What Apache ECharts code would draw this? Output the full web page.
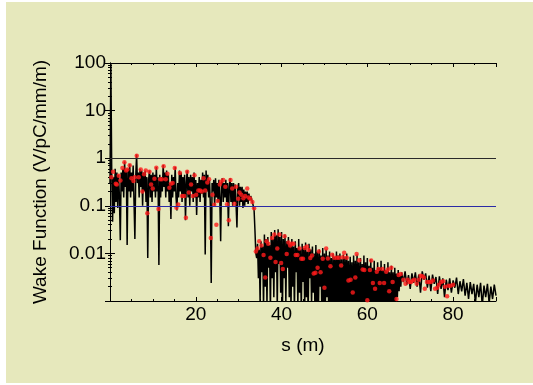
<!DOCTYPE html>
<html>
<head>
<meta charset="utf-8">
<script src="https://cdn.jsdelivr.net/npm/echarts@6/dist/echarts.min.js"></script>
<style>
  html, body { margin: 0; padding: 0; background: #ffffff; }
  #wrap { position: relative; width: 533px; height: 385px; }
  #panel { position: absolute; left: 6px; top: 2px; right: 0; bottom: 2px; background: #e6e8bc; }
  #chart { position: absolute; left: 0; top: 0; width: 533px; height: 385px; }
</style>
</head>
<body>
<div id="wrap">
  <div id="panel"></div>
  <div id="chart"></div>
</div>
<script>
// black trace, [s (m), wake (V/pC/mm/m)]
const traceHead = [
  [0.0, 0.3], [0.2, 100], [0.4, 0.5], [0.6, 0.046], [0.8, 0.4], [1.0, 0.07], [1.2, 0.6], [1.4, 0.12], [1.6, 0.5], [1.8, 0.09],
  [2.0, 0.45], [2.2, 0.15], [2.4, 0.019], [2.6, 0.5], [2.8, 0.2], [3.0, 0.6], [3.2, 0.15], [3.4, 0.85], [3.6, 0.25], [3.8, 0.55],
  [4.0, 0.015], [4.2, 0.6], [4.4, 0.2], [4.6, 0.75], [4.8, 0.15], [5.0, 0.5], [5.2, 0.2], [5.4, 0.7], [5.6, 0.12], [5.8, 0.02],
  [6.0, 0.4], [6.2, 1.2], [6.4, 0.3], [6.6, 0.5], [6.8, 0.15], [7.0, 0.6], [7.2, 0.25], [7.4, 0.55], [7.6, 0.1], [7.8, 0.5],
  [8.0, 0.2], [8.2, 0.55], [8.4, 0.12], [8.6, 0.4], [8.8, 0.008], [9.0, 0.35], [9.2, 0.55], [9.4, 0.15], [9.6, 0.45], [9.8, 0.12],
  [10.0, 0.5], [10.2, 0.2], [10.4, 0.45], [10.6, 0.15], [10.8, 0.65], [11.0, 0.2], [11.2, 0.4], [11.4, 0.0057], [11.6, 0.45], [11.8, 0.15],
  [12.0, 0.4], [12.2, 0.2], [12.4, 0.72], [12.6, 0.25], [12.8, 0.5], [13.0, 0.15], [13.2, 0.55], [13.4, 0.2], [13.6, 0.45], [13.8, 0.12],
  [14.0, 0.3], [14.2, 0.053], [14.4, 0.45], [14.6, 0.15], [14.8, 0.4], [15.0, 0.2], [15.2, 0.65], [15.4, 0.15], [15.6, 0.08], [15.8, 0.3],
  [16.0, 0.15], [16.2, 0.55], [16.4, 0.2], [16.6, 0.5], [16.8, 0.12], [17.0, 0.4], [17.2, 0.15], [17.4, 0.45], [17.6, 0.05], [17.8, 0.3],
  [18.0, 0.55], [18.2, 0.15], [18.4, 0.4], [18.6, 0.1], [18.8, 0.45], [19.0, 0.2], [19.2, 0.4], [19.4, 0.12], [19.6, 0.5], [19.8, 0.15],
  [20.0, 0.35], [20.2, 0.064], [20.4, 0.3], [20.6, 0.15], [20.8, 0.4], [21.0, 0.12], [21.2, 0.35], [21.4, 0.18], [21.6, 0.5], [21.8, 0.15],
  [22.0, 0.45], [22.2, 0.0095], [22.4, 0.55], [22.6, 0.2], [22.8, 0.45], [23.0, 0.15], [23.2, 0.35], [23.4, 0.1], [23.6, 0.0024], [23.8, 0.3],
  [24.0, 0.2], [24.2, 0.35], [24.4, 0.1], [24.6, 0.38], [24.8, 0.15], [25.0, 0.3], [25.2, 0.12], [25.4, 0.35], [25.6, 0.15], [25.8, 0.018],
  [26.0, 0.3], [26.2, 0.38], [26.4, 0.12], [26.6, 0.3], [26.8, 0.15], [27.0, 0.35], [27.2, 0.12], [27.4, 0.3], [27.6, 0.037], [27.8, 0.25],
  [28.0, 0.38], [28.2, 0.12], [28.4, 0.3], [28.6, 0.1], [28.8, 0.3], [29.0, 0.12], [29.2, 0.28], [29.4, 0.1], [29.6, 0.035], [29.8, 0.25],
  [30.0, 0.3], [30.2, 0.1], [30.4, 0.25], [30.6, 0.12], [30.8, 0.25], [31.0, 0.09], [31.2, 0.22], [31.4, 0.1], [31.6, 0.2], [31.8, 0.12],
  [32.0, 0.2], [32.2, 0.11], [32.4, 0.18], [32.6, 0.13], [32.8, 0.16], [33.0, 0.14], [33.2, 0.13], [33.4, 0.1], [33.6, 0.08], [33.8, 0.03],
  [34.0, 0.01], [34.2, 0.008]
];
const traceBand = [
  [34.4, 0.016], [34.6, 0.003], [34.8, 0.012], [35.0, 0.0009], [35.2, 0.018], [35.4, 0.004], [35.6, 0.014], [35.8, 0.0007], [36.0, 0.025], [36.2, 0.002],
  [36.4, 0.02], [36.6, 0.0008], [36.8, 0.022], [37.0, 0.005], [37.2, 0.015], [37.4, 0.0006], [37.6, 0.028], [37.8, 0.003], [38.0, 0.02], [38.2, 0.0012],
  [38.4, 0.031], [38.6, 0.004], [38.8, 0.024], [39.0, 0.0007], [39.2, 0.032], [39.4, 0.006], [39.6, 0.022], [39.8, 0.0015], [40.0, 0.028], [40.2, 0.0006],
  [40.4, 0.02], [40.6, 0.003], [40.8, 0.025], [41.0, 0.0009], [41.2, 0.018], [41.4, 0.005], [41.6, 0.022], [41.8, 0.0012], [42.0, 0.016], [42.2, 0.0007],
  [42.4, 0.02], [42.6, 0.002], [42.8, 0.014], [43.0, 0.0006], [43.2, 0.018], [43.4, 0.004], [43.6, 0.013], [43.8, 0.0008], [44.0, 0.02], [44.2, 0.0015],
  [44.4, 0.012], [44.6, 0.0006], [44.8, 0.016], [45.0, 0.0025], [45.2, 0.013], [45.4, 0.0007], [45.6, 0.017], [45.8, 0.0012], [46.0, 0.011], [46.2, 0.0005],
  [46.4, 0.016], [46.6, 0.003], [46.8, 0.012], [47.0, 0.0008], [47.2, 0.014], [47.4, 0.0015], [47.6, 0.01], [47.8, 0.0005], [48.0, 0.015], [48.2, 0.0009],
  [48.4, 0.011], [48.6, 0.0006], [48.8, 0.012], [49.0, 0.002], [49.2, 0.009], [49.4, 0.0005], [49.6, 0.013], [49.8, 0.0008], [50.0, 0.01], [50.2, 0.0006],
  [50.4, 0.012], [50.6, 0.0012], [50.8, 0.009], [51.0, 0.0005], [51.2, 0.011], [51.4, 0.0007], [51.6, 0.008], [51.8, 0.0005], [52.0, 0.01], [52.2, 0.0009],
  [52.4, 0.0085], [52.6, 0.0005], [52.8, 0.011], [53.0, 0.0007], [53.2, 0.009], [53.4, 0.0005], [53.6, 0.01], [53.8, 0.0008], [54.0, 0.0075], [54.2, 0.0005],
  [54.4, 0.0095], [54.6, 0.0006], [54.8, 0.0085], [55.0, 0.0005], [55.2, 0.01], [55.4, 0.0009], [55.6, 0.007], [55.8, 0.0005], [56.0, 0.0085], [56.2, 0.0007],
  [56.4, 0.0065], [56.6, 0.0005], [56.8, 0.009], [57.0, 0.0006], [57.2, 0.007], [57.4, 0.0005], [57.6, 0.0095], [57.8, 0.0008], [58.0, 0.0065], [58.2, 0.0005],
  [58.4, 0.008], [58.6, 0.0007], [58.8, 0.006], [59.0, 0.0005], [59.2, 0.009], [59.4, 0.0006], [59.6, 0.0065], [59.8, 0.0005], [60.0, 0.008], [60.2, 0.0007],
  [60.4, 0.0055], [60.6, 0.0005], [60.8, 0.0075], [61.0, 0.0006], [61.2, 0.005], [61.4, 0.0005], [61.6, 0.007], [61.8, 0.0008], [62.0, 0.0045], [62.2, 0.0005],
  [62.4, 0.0065], [62.6, 0.0006], [62.8, 0.005], [63.0, 0.0005], [63.2, 0.007], [63.4, 0.0007], [63.6, 0.0045], [63.8, 0.0005], [64.0, 0.006], [64.2, 0.0006],
  [64.4, 0.0045], [64.6, 0.0005], [64.8, 0.0065], [65.0, 0.0008], [65.2, 0.004], [65.4, 0.0005], [65.6, 0.0055], [65.8, 0.0007], [66.0, 0.004], [66.2, 0.0006],
  [66.4, 0.005], [66.6, 0.0009], [66.8, 0.0038], [67.0, 0.0012], [67.2, 0.0045], [67.4, 0.0016], [67.6, 0.0035], [67.8, 0.002], [68.0, 0.004]
];
const traceTail = [
  [68.4, 0.0025], [68.8, 0.0042], [69.2, 0.0022], [69.6, 0.0035], [70.0, 0.0018], [70.4, 0.0038], [70.8, 0.0024], [71.2, 0.004], [71.6, 0.002], [72.0, 0.0036],
  [72.4, 0.0015], [72.8, 0.0042], [73.2, 0.0028], [73.6, 0.0038], [74.0, 0.0019], [74.4, 0.0034], [74.8, 0.0016], [75.2, 0.0036], [75.6, 0.0023], [76.0, 0.0032],
  [76.4, 0.0014], [76.8, 0.0033], [77.2, 0.0018], [77.6, 0.003], [78.0, 0.0012], [78.4, 0.0028], [78.8, 0.0017], [79.2, 0.003], [79.6, 0.0015], [80.0, 0.0027],
  [80.4, 0.0019], [80.8, 0.0031], [81.2, 0.0014], [81.6, 0.0026], [82.0, 0.0016], [82.4, 0.0029], [82.8, 0.0013], [83.2, 0.0024], [83.6, 0.0011], [84.0, 0.0025],
  [84.4, 0.0014], [84.8, 0.0023], [85.2, 0.0009], [85.6, 0.0022], [86.0, 0.0012], [86.4, 0.0024], [86.8, 0.0008], [87.2, 0.0021], [87.6, 0.0012], [88.0, 0.0023],
  [88.4, 0.0009], [88.8, 0.002], [89.2, 0.0011], [89.6, 0.0022], [90.0, 0.0013]
];

// red points
const sRed = [
  0.33, 0.72, 1.35, 1.58, 2.04, 2.43, 2.9, 3.36, 3.75, 4.06, 4.6, 5.0, 5.46, 5.77, 6.24, 6.7, 7.17, 7.56, 7.95, 8.34,
  8.7, 9.2, 9.58, 9.97, 10.36, 10.8, 11.3, 11.7, 12.1, 12.5, 13.0, 13.4, 13.85, 14.2, 14.6, 15.1, 15.5, 15.9, 16.3, 16.8,
  17.3, 17.7, 18.0, 18.4, 18.9, 19.3, 19.7, 20.1, 20.6, 21.0, 21.4, 21.8, 22.2, 22.7, 23.1, 23.5, 23.9, 24.3, 24.8, 25.1,
  25.6, 25.9, 26.4, 26.9, 27.3, 27.7, 28.1, 28.5, 29.0, 29.4, 29.9, 30.2, 30.6, 31.1, 31.5, 32.0, 32.3, 32.7, 33.2, 33.6,
  34.0, 34.4, 34.8, 35.3, 35.8, 36.2, 36.5, 36.9, 37.4, 37.8, 38.3, 38.6, 39.0, 39.5, 39.9, 40.3, 40.7, 41.2, 41.6, 42.0,
  42.4, 42.8, 43.3, 43.7, 44.2, 44.6, 45.0, 45.4, 45.9, 46.3, 46.7, 47.1, 47.5, 47.9, 48.4, 48.7, 49.1, 49.6, 50.0, 50.4,
  50.8, 51.4, 51.8, 52.3, 52.9, 53.4, 53.9, 54.3, 54.6, 55.2, 55.6, 56.1, 56.6, 57.2, 57.5, 58.1, 58.9, 59.3, 60.0, 60.6,
  60.9, 61.3, 61.8, 62.2, 62.6, 62.9, 63.5, 63.9, 64.4, 64.8, 65.1, 65.6, 65.9, 66.8, 67.3, 67.8, 68.4, 68.9, 69.4, 69.8,
  70.2, 70.6, 71.0, 71.5, 72.0, 72.4, 72.8, 73.2, 73.4, 73.9, 74.4, 74.8, 75.3, 75.8, 76.3, 76.7, 77.2, 77.7, 78.1, 78.6,
  78.9, 79.4, 80.0
];
const wakeRed = [
  0.4, 0.52, 0.29, 0.28, 0.43, 0.34, 0.62, 0.82, 0.55, 0.58, 0.71, 0.38, 0.33, 0.4, 1.13, 0.4, 0.58, 0.2, 0.46, 0.55,
  0.07, 0.52, 0.28, 0.23, 0.37, 0.63, 0.086, 0.36, 0.36, 0.68, 0.36, 0.47, 0.24, 0.29, 0.3, 0.62, 0.091, 0.107, 0.49, 0.16,
  0.16, 0.056, 0.52, 0.19, 0.28, 0.16, 0.44, 0.17, 0.21, 0.21, 0.2, 0.38, 0.21, 0.31, 0.36, 0.021, 0.17, 0.105, 0.04, 0.126,
  0.28, 0.32, 0.35, 0.25, 0.108, 0.05, 0.35, 0.23, 0.11, 0.25, 0.14, 0.19, 0.17, 0.144, 0.16, 0.23, 0.15, 0.14, 0.12, 0.089,
  0.011, 0.0127, 0.018, 0.0147, 0.0092, 0.0031, 0.018, 0.016, 0.0081, 0.021, 0.025, 0.0066, 0.0127, 0.025, 0.0063, 0.0047, 0.023, 0.0097, 0.017, 0.0147,
  0.016, 0.016, 0.0092, 0.0092, 0.0127, 0.0077, 0.0077, 0.013, 0.014, 0.0118, 0.008, 0.009, 0.0038, 0.0039, 0.005, 0.011, 0.004, 0.0077, 0.0019, 0.0127,
  0.0078, 0.0054, 0.0094, 0.0081, 0.0081, 0.0081, 0.0056, 0.0083, 0.0103, 0.0081, 0.0027, 0.0028, 0.0015, 0.0031, 0.0097, 0.0072, 0.0046, 0.0045, 0.00104, 0.0045,
  0.0071, 0.0024, 0.0018, 0.0041, 0.0047, 0.0024, 0.0047, 0.0024, 0.0041, 0.0046, 0.0016, 0.005, 0.0025, 0.0011, 0.0035, 0.0037, 0.0028, 0.0023, 0.0028, 0.0025,
  0.0025, 0.0027, 0.0028, 0.0023, 0.0028, 0.0034, 0.0033, 0.0031, 0.0018, 0.0025, 0.0025, 0.0025, 0.0027, 0.0018, 0.0019, 0.0022, 0.0025, 0.0026, 0.002, 0.00126,
  0.0021, 0.0021, 0.0022
];

// reference levels and axis labels
const refLevels = [1, 0.1];
const refColors = ['#2a2a2a', '#2b2ba6'];
const xLabels = [20, 40, 60, 80];
const yLabels = ['100', '10', '1', '0.1', '0.01'];

const FONT = 'Liberation Sans, Arial, sans-serif';

const chart = echarts.init(document.getElementById('chart'), null, { renderer: 'canvas' });

const blackData = traceHead.concat(traceBand, traceTail);
const redData = sRed.map((s, i) => [s, wakeRed[i]]);

const xLabelFmt = v => (xLabels.indexOf(Math.round(v)) >= 0 && Math.abs(v - Math.round(v)) < 1e-6) ? String(Math.round(v)) : '';
const yLabelFmt = v => {
  const txt = String(Number(v.toPrecision(2)));
  return yLabels.indexOf(txt) >= 0 ? txt : '';
};

const option = {
  animation: false,
  backgroundColor: 'transparent',
  grid: { left: 110, right: 37, top: 63, bottom: 84, containLabel: false },
  xAxis: [
    {
      type: 'value', min: 0, max: 90, interval: 20,
      name: 's (m)', nameLocation: 'middle', nameGap: 35,
      nameTextStyle: { fontFamily: FONT, fontSize: 19, color: '#000' },
      axisLine: { show: true, lineStyle: { color: '#000', width: 1 } },
      axisTick: { show: true, inside: true, length: 4, lineStyle: { color: '#000' } },
      minorTick: { show: true, splitNumber: 4, length: 2, lineStyle: { color: '#000' } },
      axisLabel: { formatter: xLabelFmt, fontFamily: FONT, fontSize: 19, color: '#000', margin: 4 },
      splitLine: { show: false }
    },
    {
      type: 'value', min: 0, max: 90, interval: 20, position: 'top',
      axisLine: { show: true, lineStyle: { color: '#000', width: 1 } },
      axisTick: { show: true, inside: true, length: 4, lineStyle: { color: '#000' } },
      minorTick: { show: true, splitNumber: 4, length: 2, lineStyle: { color: '#000' } },
      axisLabel: { show: false },
      splitLine: { show: false }
    }
  ],
  yAxis: [
    {
      type: 'log', logBase: 10, min: 0.001, max: 100,
      name: 'Wake Function (V/pC/mm/m)', nameLocation: 'middle', nameGap: 60,
      nameTextStyle: { fontFamily: FONT, fontSize: 19, color: '#000' },
      axisLine: { show: true, lineStyle: { color: '#000', width: 1 } },
      axisTick: { show: true, inside: true, length: 5, lineStyle: { color: '#000' } },
      minorTick: { show: true, splitNumber: 9, length: 2, lineStyle: { color: '#000' } },
      axisLabel: { formatter: yLabelFmt, fontFamily: FONT, fontSize: 19, color: '#000', margin: 4 },
      splitLine: { show: false }
    },
    {
      type: 'log', logBase: 10, min: 0.001, max: 100, position: 'right',
      axisLine: { show: true, lineStyle: { color: '#000', width: 1 } },
      axisTick: { show: true, inside: true, length: 5, lineStyle: { color: '#000' } },
      minorTick: { show: true, splitNumber: 9, length: 2, lineStyle: { color: '#000' } },
      axisLabel: { show: false },
      splitLine: { show: false }
    }
  ],
  series: [
    {
      name: 'levels', type: 'line', data: [], z: 1,
      markLine: {
        silent: true, symbol: 'none', label: { show: false },
        data: refLevels.map((v, i) => ({ yAxis: v, lineStyle: { color: refColors[i], width: 1, type: 'solid' } }))
      }
    },
    {
      name: 'wake', type: 'line', data: blackData, z: 2,
      showSymbol: false, symbol: 'none', clip: true,
      lineStyle: { color: '#000', width: 1.5 }
    },
    {
      name: 'points', type: 'scatter', data: redData, z: 3,
      symbol: 'circle', symbolSize: 4.5,
      itemStyle: { color: '#ff1a1a' }
    }
  ]
};

chart.setOption(option);
</script>
</body>
</html>
